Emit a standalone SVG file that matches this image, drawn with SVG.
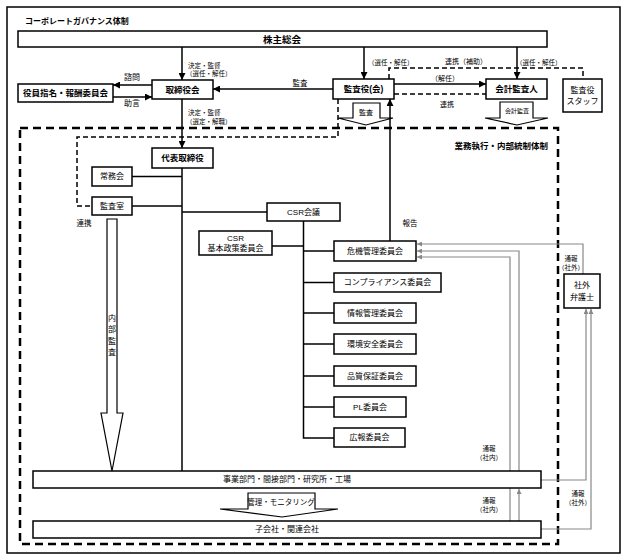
<svg xmlns="http://www.w3.org/2000/svg" width="627" height="560" viewBox="0 0 627 560">
<defs>
<style>
text{font-family:"Liberation Sans","Noto Sans CJK JP",sans-serif;fill:#000;dominant-baseline:central;text-anchor:middle}
.b{font-weight:bold;font-size:8.5px}
.r{font-size:8px}
.s{font-size:6.5px}
.st{text-anchor:start}
.en{text-anchor:end}
.box{fill:#fff;stroke:#000;stroke-width:1.5}
.ln{fill:none;stroke:#000;stroke-width:1.5}
.dl{fill:none;stroke:#000;stroke-width:1.5;stroke-dasharray:5 3}
.bd{fill:none;stroke:#000;stroke-width:2.5;stroke-dasharray:8 5}
.gl{fill:none;stroke:#888;stroke-width:1.2}
.ba{fill:#fff;stroke:#000;stroke-width:1.2}
</style>
<marker id="ah" viewBox="0 0 10 10" refX="10" refY="5" markerWidth="7" markerHeight="7" markerUnits="userSpaceOnUse" orient="auto"><path d="M0,0 L10,5 L0,10 z" fill="#000"/></marker>
<marker id="gh" viewBox="0 0 10 10" refX="10" refY="5" markerWidth="5" markerHeight="5" markerUnits="userSpaceOnUse" orient="auto"><path d="M0,0 L10,5 L0,10 z" fill="#888"/></marker>
</defs>
<rect x="7" y="7" width="613" height="546" fill="#fff" stroke="#000" stroke-width="1.5"/>
<text class="b st" x="25" y="21" style="font-size:8px">コーポレートガバナンス体制</text>
<rect class="bd" x="20" y="128" width="538" height="416"/>
<text class="b en" x="548" y="146">業務執行・内部統制体制</text>

<g id="connectors">
<!-- gray reporting lines -->
<polyline class="gl" points="583,274 583,244 417,244" marker-end="url(#gh)"/>
<polyline class="gl" points="519,471 519,251 417,251" marker-end="url(#gh)"/>
<polyline class="gl" points="510,521 510,257 417,257" marker-end="url(#gh)"/>
<line class="gl" x1="519" y1="521" x2="519" y2="489" marker-end="url(#gh)"/>
<polyline class="gl" points="541,480 586,480 586,309" marker-end="url(#gh)"/>
<polyline class="gl" points="541,529 591,529 591,309" marker-end="url(#gh)"/>

<line class="ln" x1="182" y1="47" x2="182" y2="80" marker-end="url(#ah)"/>
<line class="ln" x1="364" y1="47" x2="364" y2="79" marker-end="url(#ah)"/>
<line class="ln" x1="517" y1="47" x2="517" y2="79" marker-end="url(#ah)"/>
<line class="ln" x1="152" y1="85" x2="113" y2="85" marker-end="url(#ah)"/>
<line class="ln" x1="113" y1="97" x2="152" y2="97" marker-end="url(#ah)"/>
<line class="ln" x1="333" y1="89" x2="213" y2="89" marker-end="url(#ah)"/>
<line class="ln" x1="394" y1="84" x2="486" y2="84" marker-end="url(#ah)"/>
<line class="dl" x1="394" y1="94" x2="486" y2="94"/>
<polyline class="dl" points="389,79 389,68 583,68 583,79"/>
<line class="ln" x1="182" y1="99" x2="182" y2="148" marker-end="url(#ah)"/>
<line class="ln" x1="182" y1="168" x2="182" y2="471"/>
<line class="ln" x1="132" y1="176.5" x2="182" y2="176.5"/>
<line class="ln" x1="132" y1="206" x2="182" y2="206"/>
<line class="ln" x1="182" y1="212" x2="267" y2="212"/>
<polyline class="dl" points="338,99 338,137 77,137 77,206 92,206"/>
<line class="ln" x1="390" y1="241" x2="390" y2="99" marker-end="url(#ah)"/>
<polyline class="ln" points="303.5,221 303.5,438 334,438"/>
<line class="ln" x1="272" y1="246" x2="303.5" y2="246"/>
<line class="ln" x1="303.5" y1="251" x2="334" y2="251"/>
<line class="ln" x1="303.5" y1="282.5" x2="334" y2="282.5"/>
<line class="ln" x1="303.5" y1="313" x2="334" y2="313"/>
<line class="ln" x1="303.5" y1="344" x2="334" y2="344"/>
<line class="ln" x1="303.5" y1="376" x2="334" y2="376"/>
<line class="ln" x1="303.5" y1="407" x2="334" y2="407"/>

<!-- block arrows -->
<polygon class="ba" points="353,103 380,103 380,118 393,118 366,125 338,118 353,118"/>
<polygon class="ba" points="500,102 533,102 533,118 548,118 517,125 485,118 500,118"/>
<polygon class="ba" points="107,219 117,219 117,413 123,413 112,471 101,413 107,413"/>
<polygon class="ba" points="248,493 315,493 315,509 338,509 282,517 220,509 248,509"/>

<!-- labels -->
<text class="r" x="132" y="77">諮問</text>
<text class="r" x="132" y="103">助言</text>
<text class="s st" x="188" y="65">決定・監督</text>
<text class="s st" x="186" y="73">（選任・解任）</text>
<text class="r" x="300" y="83" style="font-size:7.5px">監査</text>
<text class="s st" x="368" y="62">（選任・解任）</text>
<text class="s st" x="516" y="62">（選任・解任）</text>
<text class="s" x="466" y="61" style="font-size:7px">連携（補助）</text>
<text class="s" x="445" y="78" style="font-size:7px">（解任）</text>
<text class="s" x="447" y="104" style="font-size:7px">連携</text>
<text class="s st" x="188" y="112">決定・監督</text>
<text class="s st" x="186" y="121">（選定・解職）</text>
<text class="s" x="366" y="112" style="font-size:7px">監査</text>
<text class="s" x="517" y="111" style="font-size:6px">会計監査</text>
<text class="r" x="84" y="223" style="font-size:7.5px">連携</text>
<text class="r" x="112" y="318">内</text>
<text class="r" x="112" y="329.5">部</text>
<text class="r" x="112" y="341">監</text>
<text class="r" x="112" y="352.5">査</text>
<text class="r" x="410" y="223" style="font-size:7.5px">報告</text>
<text class="s" x="571" y="258">通報</text>
<text class="s" x="571" y="267">（社外）</text>
<text class="s" x="489" y="448">通報</text>
<text class="s" x="489" y="457">（社内）</text>
<text class="s" x="489" y="500">通報</text>
<text class="s" x="489" y="509">（社内）</text>
<text class="s" x="578" y="493">通報</text>
<text class="s" x="578" y="502">（社外）</text>
<text class="r" x="281" y="502" style="font-size:7.5px">管理・モニタリング</text>
</g>

<g id="n-kabunushi"><rect class="box" x="18" y="31" width="529" height="16"/><text class="b" x="282" y="39" style="font-size:9.5px">株主総会</text></g>
<g id="n-torishimariyakukai"><rect class="box" x="152" y="80" width="61" height="19"/><text class="b" x="182.5" y="89.5">取締役会</text></g>
<g id="n-shimei"><rect class="box" x="18" y="84" width="95" height="18"/><text class="b" x="65.5" y="93">役員指名・報酬委員会</text></g>
<g id="n-kansayaku"><rect class="box" x="333" y="79" width="61" height="20"/><text class="b" x="363.5" y="89">監査役(会)</text></g>
<g id="n-kaikei"><rect class="box" x="486" y="79" width="61" height="20"/><text class="b" x="516.5" y="89">会計監査人</text></g>
<g id="n-staff"><rect class="box" x="563" y="79" width="39" height="33"/><text class="r" x="582.5" y="90">監査役</text><text class="r" x="582.5" y="101">スタッフ</text></g>
<g id="n-daihyo"><rect class="box" x="152" y="148" width="61" height="20"/><text class="b" x="182.5" y="158">代表取締役</text></g>
<g id="n-jomu"><rect class="box" x="92" y="167" width="40" height="19"/><text class="r" x="112" y="176.5">常務会</text></g>
<g id="n-kansashitsu"><rect class="box" x="92" y="197" width="40" height="18"/><text class="r" x="112" y="206">監査室</text></g>
<g id="n-csr"><rect class="box" x="267" y="203" width="73" height="18"/><text class="r" x="303.5" y="212">CSR会議</text></g>
<g id="n-csrkihon"><rect class="box" x="199" y="231" width="73" height="24"/><text class="r" x="235.5" y="238">CSR</text><text class="r" x="235.5" y="248.5">基本政策委員会</text></g>
<g id="n-kiki"><rect class="box" x="334" y="241" width="82" height="20"/><text class="r" x="375" y="251">危機管理委員会</text></g>
<g id="n-compliance"><rect class="box" x="334" y="273" width="107" height="19"/><text class="r" x="387.5" y="282.5">コンプライアンス委員会</text></g>
<g id="n-joho"><rect class="box" x="334" y="303" width="82" height="20"/><text class="r" x="375" y="313">情報管理委員会</text></g>
<g id="n-kankyo"><rect class="box" x="334" y="334" width="82" height="20"/><text class="r" x="375" y="344">環境安全委員会</text></g>
<g id="n-hinshitsu"><rect class="box" x="334" y="366" width="82" height="20"/><text class="r" x="375" y="376">品質保証委員会</text></g>
<g id="n-pl"><rect class="box" x="334" y="397" width="72" height="20"/><text class="r" x="370" y="407">PL委員会</text></g>
<g id="n-koho"><rect class="box" x="334" y="428" width="71" height="19"/><text class="r" x="369.5" y="437.5">広報委員会</text></g>
<g id="n-bengoshi"><rect class="box" x="564" y="274" width="36" height="34"/><text class="r" x="582" y="285">社外</text><text class="r" x="582" y="297">弁護士</text></g>
<g id="n-jigyo"><rect class="box" x="33" y="471" width="508" height="17"/><text class="r" x="287" y="479.5">事業部門・間接部門・研究所・工場</text></g>
<g id="n-kogaisha"><rect class="box" x="33" y="521" width="508" height="17"/><text class="r" x="287" y="529.5">子会社・関連会社</text></g>
</svg>
